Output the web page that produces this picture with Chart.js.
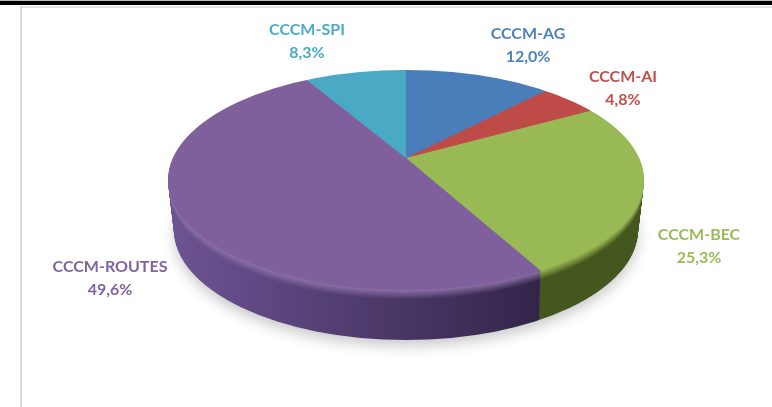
<!DOCTYPE html>
<html>
<head>
<meta charset="utf-8">
<style>
  html, body { margin: 0; background: #fff; overflow: hidden; }
  #topGrey { position: absolute; left: 0; top: 0; width: 772px; height: 1px; background: #bbb; }
  #topLine { position: absolute; left: 0; top: 1px; width: 772px; height: 4px; background: #000; }
  #frameTop { position: absolute; left: 20px; top: 6px; width: 752px; height: 2px; background: #e4e4e4; }
  #frameLeft { position: absolute; left: 20px; top: 6px; width: 2px; height: 401px; background: #d9d9d9; }
  canvas { position: absolute; left: 0; top: 0; }
</style>
</head>
<body>
<div id="topGrey"></div>
<div id="topLine"></div>
<div id="frameTop"></div>
<div id="frameLeft"></div>
<canvas id="chart3d" width="772" height="407"></canvas>
<script src="https://cdn.jsdelivr.net/npm/chart.js@4"></script>
<script>
const categories = ["CCCM-AG", "CCCM-AI", "CCCM-BEC", "CCCM-ROUTES", "CCCM-SPI"];
const shares = [12.0, 4.8, 25.3, 49.6, 8.3];
const topColors = ["#4a7ebb", "#be4b48", "#98b954", "#7f5f9c", "#4aa9c4"];
const labelColors = ["#4f81bd", "#c0504d", "#9bbb59", "#8064a2", "#4bacc6"];
const sideLeftColors = ["#3a6392", "#8f3a38", "#4a5b22", "#6d5494", "#38839a"];
const sideRightColors = ["#2a4a70", "#6d2b29", "#46561f", "#33254a", "#2a6476"];
const bevelLift = [0.08, 0.08, 0, 0.12, 0.08];

// sitio de cada etiqueta (centro x, linea 1 y)
const labelSpots = [[528, 34], [623, 77], [699, 235], [110, 267], [307, 30]];

// elipse de la cara superior, con perspectiva (apex != centro)
const RX = 238, RY = 110, ELLIPSE_DY = 22;
const DEPTH = 50, BEVEL = 10;

function hexRgb(h) {
  return [1, 3, 5].map((i) => parseInt(h.substr(i, 2), 16));
}
function mix(a, b, t) {
  let ca = hexRgb(a), cb = hexRgb(b);
  let c = ca.map((v, i) => Math.round(v + (cb[i] - v) * t));
  return "#" + c.map((v) => v.toString(16).padStart(2, "0")).join("");
}

// angulo del pastel plano -> angulo en la cara inclinada
function tiltAngle(a) {
  let t = Math.atan2(0.453 * Math.sin(a), Math.cos(a));
  return t + 2 * Math.PI * Math.round((a - t) / (2 * Math.PI));
}

function drawArcs(ctx, arcs, fillFor) {
  arcs.forEach((arc, i) => {
    let saved = {
      startAngle: arc.startAngle, endAngle: arc.endAngle,
      outerRadius: arc.outerRadius, options: arc.options,
    };
    arc.startAngle = tiltAngle(saved.startAngle);
    arc.endAngle = tiltAngle(saved.endAngle);
    arc.outerRadius = 900;
    arc.options = {
      backgroundColor: fillFor(i), borderColor: "transparent", borderWidth: 0,
      borderRadius: 0, offset: 0, spacing: 0, circular: true, borderAlign: "center",
    };
    arc.draw(ctx);
    Object.assign(arc, saved);
  });
}

const pie3d = {
  id: "pie3d",
  beforeDatasetDraw(chart, args) {
    let ctx = chart.ctx;
    let arcs = args.meta.data;
    let cx = arcs[0].x, apexY = arcs[0].y;
    let cy = apexY + ELLIPSE_DY;

    // sombra
    ctx.save();
    ctx.shadowColor = "rgba(90,90,90,0.32)";
    ctx.shadowBlur = 13;
    ctx.shadowOffsetY = 6;
    ctx.fillStyle = "#ddd";
    ctx.beginPath();
    ctx.ellipse(cx, cy + DEPTH, RX - 6, RY, 0, 0, Math.PI * 2);
    ctx.fill();
    ctx.restore();

    // pared lateral
    for (let dy = DEPTH; dy > 0; dy--) {
      let t = Math.min(dy / BEVEL, 1);
      ctx.save();
      ctx.translate(0, dy);
      ctx.beginPath();
      ctx.ellipse(cx, cy, RX - dy * 0.12, RY, 0, 0, Math.PI * 2);
      ctx.clip();
      drawArcs(ctx, arcs, (i) => {
        let lit = mix(topColors[i], "#ffffff", bevelLift[i]);
        let g = ctx.createLinearGradient(cx - RX, 0, cx + 132, 0);
        g.addColorStop(0, mix(lit, sideLeftColors[i], t));
        g.addColorStop(1, mix(lit, sideRightColors[i], t));
        return g;
      });
      ctx.restore();
    }

    // cara superior
    ctx.save();
    ctx.beginPath();
    ctx.ellipse(cx, cy, RX, RY, 0, 0, Math.PI * 2);
    ctx.clip();
    drawArcs(ctx, arcs, (i) => topColors[i]);
    ctx.restore();
    return false;
  },
  afterDraw(chart) {
    let ctx = chart.ctx;
    ctx.save();
    ctx.textAlign = "center";
    ctx.textBaseline = "middle";
    ctx.font = "bold 16px Lato";
    categories.forEach((name, i) => {
      let spot = labelSpots[i];
      ctx.fillStyle = labelColors[i];
      ctx.fillText(name, spot[0], spot[1]);
      ctx.fillText(shares[i].toFixed(1).replace(".", ",") + "%", spot[0], spot[1] + 23);
    });
    ctx.restore();
  },
};

new Chart(document.getElementById("chart3d").getContext("2d"), {
  type: "pie",
  data: {
    labels: categories,
    datasets: [{ data: shares, backgroundColor: topColors, borderWidth: 0 }],
  },
  options: {
    responsive: false,
    animation: false,
    layout: { padding: { top: 70, bottom: 161, left: 40, right: 0 } },
    plugins: { legend: { display: false }, tooltip: { enabled: false } },
  },
  plugins: [pie3d],
});
</script>
</body>
</html>
